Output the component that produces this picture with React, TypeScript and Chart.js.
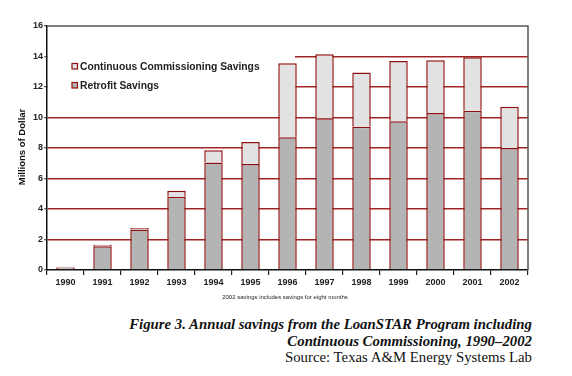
import React, { useEffect, useRef } from "react";
import { Chart, registerables } from "chart.js";

Chart.register(...registerables);

const years = ["1990", "1991", "1992", "1993", "1994", "1995", "1996", "1997", "1998", "1999", "2000", "2001", "2002"];
const retrofitSavings = [0.17, 1.55, 2.65, 4.8, 7.05, 6.95, 8.7, 9.95, 9.4, 9.75, 10.3, 10.45, 8.0];
const ccSavings = [0.05, 0.1, 0.1, 0.4, 0.8, 1.45, 4.85, 4.2, 3.55, 3.95, 3.45, 3.5, 2.7];
const legendLabels = ["Continuous Commissioning Savings", "Retrofit Savings"];
const yTitle = "Millions of Dollar";
const footnote = "2002 savings includes savings for eight months";

const RED = "#8e1010";
const GRID = "#a02424";

const decor = {
  id: "decor",
  beforeDatasetsDraw(chart: any) {
    const ctx = chart.ctx;
    ctx.save();
    ctx.fillStyle = "#ffffff";
    ctx.fillRect(48, 40, 247, 60);
    ctx.restore();
  },
  afterDraw(chart: any) {
    const ctx = chart.ctx;
    const a = chart.chartArea;
    ctx.save();
    // frame top & right
    ctx.strokeStyle = "#555555";
    ctx.lineWidth = 1.5;
    ctx.beginPath();
    ctx.moveTo(a.left, a.top);
    ctx.lineTo(a.right, a.top);
    ctx.lineTo(a.right, a.bottom);
    ctx.stroke();
    // legend
    const fills = ["#e2e2e2", "#b4b4b4"];
    const ys = [67, 86];
    ctx.font = "bold 10.3px 'Liberation Sans', Arial, sans-serif";
    ctx.textBaseline = "middle";
    ctx.textAlign = "left";
    for (let i = 0; i < 2; i++) {
      ctx.fillStyle = fills[i];
      ctx.fillRect(72, ys[i] - 3.5, 5.5, 5.5);
      ctx.strokeStyle = RED;
      ctx.lineWidth = 1.2;
      ctx.strokeRect(72, ys[i] - 3.5, 5.5, 5.5);
      ctx.fillStyle = "#222222";
      ctx.fillText(legendLabels[i], 80, ys[i] + 0.5);
    }
    // y title
    ctx.save();
    ctx.translate(22, 147);
    ctx.rotate(-Math.PI / 2);
    ctx.textAlign = "center";
    ctx.font = "bold 9.5px 'Liberation Sans', Arial, sans-serif";
    ctx.fillStyle = "#111111";
    ctx.fillText(yTitle, 0, 0);
    ctx.restore();
    // footnote
    ctx.font = "6px 'Liberation Sans', Arial, sans-serif";
    ctx.textAlign = "center";
    ctx.fillStyle = "#222222";
    ctx.fillText(footnote, 285, 297);
    ctx.restore();
  },
};

export default function App() {
  const ref = useRef<HTMLCanvasElement>(null);
  useEffect(() => {
    if (!ref.current) return;
    const chart = new Chart(ref.current, {
      type: "bar",
      data: {
        labels: years,
        datasets: [
          {
            label: legendLabels[1],
            data: retrofitSavings,
            backgroundColor: "#b4b4b4",
            borderColor: RED,
            borderWidth: 1.5,
            barPercentage: 0.5,
            categoryPercentage: 1,
          },
          {
            label: legendLabels[0],
            data: ccSavings,
            backgroundColor: "#e2e2e2",
            borderColor: RED,
            borderWidth: 1.5,
            barPercentage: 0.5,
            categoryPercentage: 1,
          },
        ],
      },
      options: {
        animation: false,
        responsive: false,
        layout: { padding: { top: 26, right: 44, left: 0, bottom: 0 } },
        plugins: { legend: { display: false }, tooltip: { enabled: false } },
        scales: {
          x: {
            stacked: true,
            afterFit: (s: any) => { s.height = 35; },
            grid: { offset: true, drawOnChartArea: false, drawTicks: true, tickLength: 5, color: "#222222", lineWidth: 1.2 },
            border: { color: "#111111", width: 1.5 },
            ticks: { padding: 2, color: "#222222", font: { family: "'Liberation Sans', Arial", size: 9, weight: "bold" } },
          },
          y: {
            stacked: true,
            min: 0,
            max: 16,
            afterFit: (s: any) => { s.width = 47; },
            grid: {
              drawTicks: true,
              tickLength: 3,
              tickColor: "#333333",
              tickWidth: 1,
              color: (c: any) => (c.tick && c.tick.value > 0 && c.tick.value < 16 ? GRID : "rgba(0,0,0,0)"),
              lineWidth: 1.5,
            },
            border: { color: "#111111", width: 1.5 },
            ticks: { stepSize: 2, padding: 1, color: "#222222", font: { family: "'Liberation Sans', Arial", size: 9, weight: "bold" } },
          },
        },
      },
      plugins: [decor],
    });
    return () => chart.destroy();
  }, []);
  return (
    <div style={{ position: "absolute", left: 0, top: 0, width: 572, height: 376, background: "#fff" }}>
      <canvas ref={ref} width={572} height={305} style={{ position: "absolute", left: 0, top: 0 }} />
      <div
        style={{
          position: "absolute",
          right: 40,
          top: 316,
          textAlign: "right",
          fontFamily: "'Liberation Serif', serif",
          fontSize: 14.8,
          lineHeight: "16.5px",
          color: "#111",
          whiteSpace: "nowrap",
        }}
      >
        <div style={{ fontWeight: "bold", fontStyle: "italic" }}>Figure 3. Annual savings from the LoanSTAR Program including</div>
        <div style={{ fontWeight: "bold", fontStyle: "italic" }}>Continuous Commissioning, 1990–2002</div>
        <div>Source: Texas A&amp;M Energy Systems Lab</div>
      </div>
    </div>
  );
}
